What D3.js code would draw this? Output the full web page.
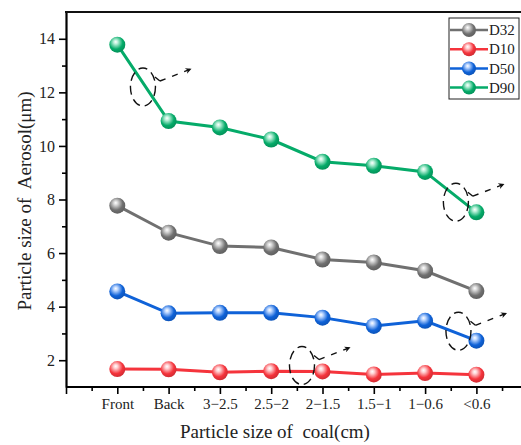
<!DOCTYPE html>
<html lang="en"><head>
<meta charset="utf-8">
<title>Particle size chart</title>
<script src="https://cdn.jsdelivr.net/npm/d3@7"></script>
<style>
  body { margin: 0; background: #fff; }
  text { font-family: "Liberation Serif", "Times New Roman", serif; fill: #222; white-space: pre; }
</style>
</head>
<body>
<script>
// data
var categories = ["Front", "Back", "3\u22122.5", "2.5\u22122", "2\u22121.5", "1.5\u22121", "1\u22120.6", "<0.6"];
var d32 = [7.77, 6.76, 6.26, 6.21, 5.76, 5.65, 5.34, 4.58];
var d10 = [1.67, 1.66, 1.55, 1.59, 1.58, 1.47, 1.52, 1.46];
var d50 = [4.57, 3.75, 3.77, 3.77, 3.59, 3.28, 3.47, 2.73];
var d90 = [13.78, 10.93, 10.69, 10.24, 9.41, 9.26, 9.03, 7.52];
var yTicks = [2, 4, 6, 8, 10, 12, 14];

var series = [
  { name: "D32", values: d32, color: "#707070", light: "#d8d8d8" },
  { name: "D10", values: d10, color: "#f5343c", light: "#ffd0d2" },
  { name: "D50", values: d50, color: "#0f62d8", light: "#bcd6ff" },
  { name: "D90", values: d90, color: "#05ab69", light: "#b8f0d8" }
];

var w = 521, h = 445;
var mLeft = 66, mTop = 12, mBottom = 387;

var svg = d3.select("body").append("svg")
  .attr("width", w).attr("height", h);

var x = d3.scaleLinear().domain([-1, 8]).range([mLeft, mLeft + 9 * 51.3]);
var y = d3.scaleLinear().domain([1, 15]).range([mBottom, mTop]);

// gradients for the ball markers
var defs = svg.append("defs");
series.forEach(function(s, i) {
  var g = defs.append("radialGradient").attr("id", "ball" + i)
    .attr("cx", "0.42").attr("cy", "0.38").attr("r", "0.6")
    .attr("fx", "0.4").attr("fy", "0.32");
  g.append("stop").attr("offset", "0").attr("stop-color", "#fff");
  g.append("stop").attr("offset", "0.22").attr("stop-color", s.light);
  g.append("stop").attr("offset", "0.7").attr("stop-color", s.color);
  g.append("stop").attr("offset", "1").attr("stop-color", d3.color(s.color).darker(0.4));
});
defs.append("marker").attr("id", "arrow")
  .attr("viewBox", "0 0 10 10").attr("refX", 9).attr("refY", 5)
  .attr("markerWidth", 7).attr("markerHeight", 6).attr("orient", "auto")
  .attr("markerUnits", "userSpaceOnUse")
  .append("path").attr("d", "M0,0 L10,5 L0,10 L3,5 Z").attr("fill", "#111");

// axes
var xMajor = d3.range(-1, 8);
var xMinor = d3.range(-0.5, 8, 1);
svg.append("g").attr("transform", "translate(0," + mBottom + ")")
  .call(d3.axisBottom(x).tickValues(xMinor).tickSize(4).tickFormat(""))
  .call(function(g) { g.select(".domain").remove(); g.selectAll("line").attr("stroke-width", 1.6); });
var xa = svg.append("g").attr("transform", "translate(0," + mBottom + ")")
  .call(d3.axisBottom(x).tickValues(xMajor).tickSize(7).tickSizeOuter(0)
    .tickFormat(function(d) { return d >= 0 ? categories[d] : ""; }));
xa.select(".domain").attr("d", "M" + mLeft + ",0H" + w).attr("stroke-width", 2.2);
xa.selectAll("line").attr("stroke-width", 1.6);
xa.selectAll("text").attr("font-size", 15).attr("dy", "0.9em").attr("y", 8);

var yMinor = [3, 5, 7, 9, 11, 13];
svg.append("g").attr("transform", "translate(" + mLeft + ",0)")
  .call(d3.axisLeft(y).tickValues(yMinor).tickSize(4).tickFormat(""))
  .call(function(g) { g.select(".domain").remove(); g.selectAll("line").attr("stroke-width", 1.6); });
var ya = svg.append("g").attr("transform", "translate(" + mLeft + ",0)")
  .call(d3.axisLeft(y).tickValues(yTicks).tickSize(7).tickSizeOuter(0));
ya.select(".domain").attr("stroke-width", 2.2);
ya.selectAll("line").attr("stroke-width", 1.6);
ya.selectAll("text").attr("font-size", 16).attr("x", -11);

// top frame line
svg.append("line").attr("x1", mLeft - 1).attr("x2", w).attr("y1", mTop).attr("y2", mTop)
  .attr("stroke", "#111").attr("stroke-width", 2.2);

// lines and markers
var line = d3.line().x(function(d, i) { return x(i); }).y(function(d) { return y(d); });
series.forEach(function(s, i) {
  svg.append("path").datum(s.values).attr("d", line)
    .attr("fill", "none").attr("stroke", s.color).attr("stroke-width", 3);
  svg.selectAll(".pt" + i).data(s.values).enter().append("circle")
    .attr("cx", function(d, j) { return x(j); })
    .attr("cy", function(d) { return y(d); })
    .attr("r", 8).attr("fill", "url(#ball" + i + ")");
});

// dashed annotation ellipses with arrows
var notes = [
  { i: 0.5, v: 12.2 },
  { i: 6.6, v: 7.9 },
  { i: 6.65, v: 3.08 },
  { i: 3.6, v: 1.8 }
];
notes.forEach(function(n) {
  var cx = x(n.i), cy = y(n.v);
  svg.append("ellipse").attr("cx", cx).attr("cy", cy).attr("rx", 12.5).attr("ry", 19)
    .attr("fill", "none").attr("stroke", "#111").attr("stroke-width", 1.4)
    .attr("stroke-dasharray", "9,5");
  svg.append("path").attr("d", "M" + (cx + 12) + "," + (cy - 10) + "l5,4")
    .attr("stroke", "#111").attr("stroke-width", 1.4);
  svg.append("line").attr("x1", cx + 17).attr("y1", cy - 6).attr("x2", cx + 48).attr("y2", cy - 18)
    .attr("stroke", "#111").attr("stroke-width", 1.4).attr("stroke-dasharray", "6,7")
    .attr("marker-end", "url(#arrow)");
});

// legend
var lg = svg.append("g");
lg.append("rect").attr("x", 449).attr("y", 18).attr("width", 70).attr("height", 81)
  .attr("fill", "#fff").attr("stroke", "#222").attr("stroke-width", 1);
series.forEach(function(s, i) {
  var ly = 30 + i * 19.2;
  lg.append("line").attr("x1", 450).attr("x2", 488).attr("y1", ly).attr("y2", ly)
    .attr("stroke", s.color).attr("stroke-width", 2.5);
  lg.append("circle").attr("cx", 469).attr("cy", ly).attr("r", 7).attr("fill", "url(#ball" + i + ")");
  lg.append("text").attr("x", 489).attr("y", ly).attr("dy", "0.35em")
    .attr("font-size", 15).text(s.name);
});

// axis titles
svg.append("text").attr("x", 275).attr("y", 438).attr("text-anchor", "middle")
  .attr("font-size", 19).text("Particle size of  coal(cm)");
svg.append("text").attr("transform", "translate(31,201) rotate(-90)")
  .attr("text-anchor", "middle").attr("font-size", 19).text("Particle size of  Aerosol(\u03bcm)");
</script>
</body></html>
